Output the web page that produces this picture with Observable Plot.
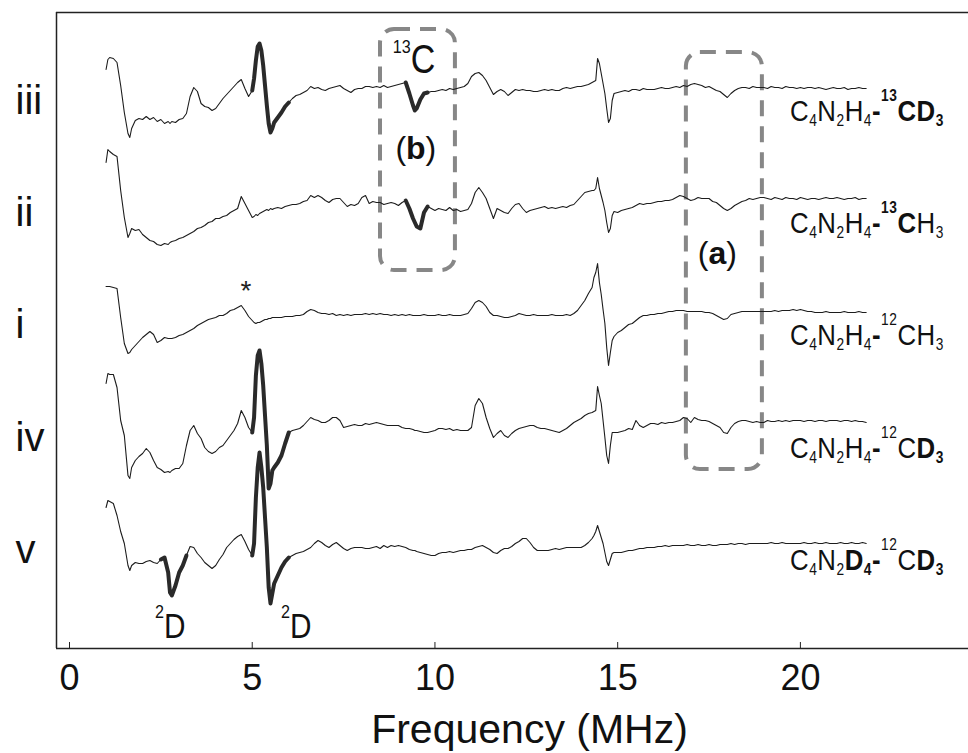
<!DOCTYPE html>
<html><head><meta charset="utf-8">
<script src="https://cdn.jsdelivr.net/npm/d3@7"></script>
<script src="https://cdn.jsdelivr.net/npm/@observablehq/plot@0.6"></script>
<style>body{margin:0;background:#fff;} svg{display:block;}</style>
</head><body><div id="chart"></div>
<script>
// ---------- data ----------
const traceNames = ["iii", "ii", "i", "iv", "v"];
const traceOffsets = [560, 448, 336, 223, 111];   // vertical stacking offsets (signal units)
const xTicks = [0, 5, 10, 15, 20];

// shared frequency grid (MHz)
const freq = [
 1.0,1.05,1.1,1.2,1.3,1.4,1.5,1.6,1.65,1.7,1.8,1.9,
 2.0,2.1,2.2,2.3,2.4,2.5,2.6,2.7,2.75,2.8,2.9,
 3.0,3.1,3.2,3.3,3.4,3.5,3.6,3.7,3.8,3.9,
 4.0,4.1,4.2,4.3,4.4,4.5,4.6,4.7,4.8,4.9,
 5.0,5.05,5.1,5.15,5.2,5.25,5.3,5.35,5.4,5.45,5.5,5.55,5.6,5.7,5.8,5.9,
 6.0,6.1,6.2,6.3,6.4,6.5,6.6,6.7,6.8,6.9,
 7.0,7.1,7.2,7.3,7.4,7.5,7.6,7.7,7.8,7.9,
 8.0,8.1,8.2,8.3,8.4,8.5,8.6,8.7,8.8,8.9,
 9.0,9.1,9.2,9.3,9.4,9.45,9.5,9.6,9.7,9.8,9.9,
 10.0,10.1,10.2,10.3,10.4,10.5,10.6,10.7,10.8,10.9,
 11.0,11.1,11.2,11.3,11.4,11.5,11.6,11.7,11.8,11.9,
 12.0,12.1,12.2,12.3,12.4,12.5,12.6,12.7,12.8,12.9,
 13.0,13.1,13.2,13.3,13.4,13.5,13.6,13.7,13.8,13.9,
 14.0,14.1,14.2,14.3,14.35,14.4,14.45,14.5,14.55,14.6,14.65,14.7,14.75,14.8,14.85,14.9,
 15.0,15.1,15.2,15.3,15.4,15.5,15.6,15.7,15.8,15.9,
 16.0,16.1,16.2,16.3,16.4,16.5,16.6,16.7,16.8,16.9,
 17.0,17.1,17.2,17.3,17.4,17.5,17.6,17.7,17.8,17.9,
 18.0,18.1,18.2,18.3,18.4,18.5,18.6,18.7,18.8,18.9,
 19.0,19.1,19.2,19.3,19.4,19.5,19.6,19.7,19.8,19.9,
 20.0,20.1,20.2,20.3,20.4,20.5,20.6,20.7,20.8,20.9,
 21.0,21.1,21.2,21.3,21.4,21.5,21.6,21.7,21.8];

const sigIII = [
 19,29,31,30,26,3,-24,-45,-49,-40,-32,-30,
 -31,-28,-31,-29,-33,-31,-35,-33,-35,-33,-34,
 -31,-30,-25,-8,1,-3,-15,-18,-19,-22,
 -20,-15,-10,-6,-2,2,6,9,0,-8,
 -2,10,28,42,45,38,23,3,-17,-35,-44,-40,-34,-29,-24,-18,
 -14,-10,-7,-6,-4,-2,2,0,1,-1,
 -2,0,1,2,3,0,-2,-4,-1,0,
 0,2,2,1,2,1,3,1,2,3,
 4,5,6,-5,-17,-22,-20,-11,-5,-4,-3,
 -3,-2,-1,-2,0,-1,0,1,2,5,
 12,15,16,13,8,1,-6,-3,-1,-3,
 -7,-4,-1,-2,-1,-2,-2,-3,-3,-2,
 -1,-2,-1,-2,-2,0,1,0,1,2,
 2,3,4,6,7,8,30,25,15,5,-5,-20,-34,-30,-12,-5,
 -4,-3,-2,-3,-1,-1,-2,0,-1,-1,
 -1,0,1,0,0,1,2,1,3,2,
 4,5,4,3,1,2,0,-2,-3,-6,
 -9,-5,-2,0,1,1,0,2,1,1,
 1,0,2,1,1,0,2,1,1,0,
 1,0,1,1,0,1,0,-1,0,1,
 0,0,1,-1,0,0,1,0,0];

const sigII = [
 38,51,49,46,44,10,-17,-37,-33,-28,-30,-29,
 -34,-37,-40,-41,-44,-45,-43,-44,-42,-41,-40,
 -38,-37,-35,-33,-31,-28,-27,-25,-22,-21,
 -18,-18,-16,-15,-12,-10,-8,4,-3,-10,
 -17,-16,-14,-15,-13,-12,-11,-10,-9,-10,-8,-9,-8,-7,-8,-6,
 -5,-4,-4,-3,-1,0,5,3,5,3,
 0,-2,1,2,2,-2,-6,-4,-5,-3,
 3,5,-3,-1,-2,-2,-4,-3,-2,-3,
 -5,-2,0,-8,-18,-22,-26,-28,-12,-6,-8,
 -10,-8,-9,-10,-7,-10,-9,-11,-10,-9,
 -3,8,13,8,2,-8,-18,-8,-10,-12,
 -13,-8,-4,-3,-8,-12,-10,-9,-8,-7,
 -6,-8,-7,-8,-7,-6,-7,-5,-4,0,
 4,8,9,10,10,12,23,12,5,-2,-10,-22,-32,-28,-15,-11,
 -12,-10,-9,-8,-7,-5,-3,-4,-3,-3,
 -2,-1,-1,0,0,1,3,5,4,2,
 0,1,3,2,2,2,-1,-2,-5,-8,
 -10,-8,-5,-3,-1,0,2,1,2,3,
 3,2,1,3,2,1,3,2,2,1,
 3,2,1,2,2,1,2,3,2,2,
 3,2,1,2,2,3,1,2,2];

const sigI = [
 26,26,26,25,24,-5,-31,-41,-40,-37,-33,-29,
 -25,-22,-19,-22,-30,-28,-25,-26,-26,-26,-25,
 -23,-22,-20,-18,-16,-13,-11,-9,-7,-6,
 -5,-3,-3,-1,2,3,5,7,2,-4,
 -8,-10,-11,-10,-10,-9,-8,-7,-7,-6,-6,-5,-5,-5,-5,-4,
 -4,-4,-3,-3,-2,1,3,2,0,-1,
 -1,-2,-1,-3,-2,-3,-2,-3,-2,-2,
 -2,-1,-2,-1,-2,-1,-2,-2,-3,-2,
 -3,-2,-3,-2,-3,-3,-3,-3,-2,-3,-3,
 -3,-2,-3,-3,-2,-3,-3,-3,-2,-1,
 4,10,12,10,6,0,-3,-3,-4,-5,
 -5,-4,-3,-1,-2,-3,-3,-2,-3,-3,
 -3,-3,-2,-3,-3,-3,-2,-3,-1,2,
 7,12,19,25,35,40,49,30,18,3,-11,-35,-53,-40,-28,-24,
 -20,-18,-15,-12,-11,-8,-5,-3,-3,-2,
 -2,-1,-1,0,1,1,2,2,2,1,
 1,1,1,1,0,0,-1,-3,-5,-7,
 -6,-2,-1,0,1,1,1,1,1,1,
 1,1,1,2,1,2,2,2,3,2,
 3,2,1,1,0,0,0,1,0,0,
 0,0,1,0,0,0,1,0,0];

const sigIV = [
 42,52,51,51,38,5,-10,-50,-53,-42,-35,-31,
 -28,-23,-27,-35,-42,-44,-47,-46,-47,-45,-43,
 -43,-38,-20,-5,0,-8,-13,-22,-26,-28,
 -26,-22,-20,-15,-10,-5,2,15,8,-2,
 -7,8,50,70,75,62,40,10,-20,-63,-58,-45,-42,-37,-30,-18,
 -7,-5,-4,-3,0,4,8,6,5,3,
 3,5,8,8,5,-2,-1,0,1,0,
 0,2,1,2,3,2,1,0,0,0,
 0,-2,-3,-3,-4,-5,-5,-6,-7,-7,-6,
 -5,-3,-3,-4,-3,-5,-4,-5,-5,-5,
 -2,20,27,22,8,-3,-12,-8,-5,-10,
 -12,-8,-5,-3,-2,-1,0,0,-2,-3,
 -3,-4,-5,-6,-7,-5,-3,0,3,5,
 7,10,12,13,14,15,39,30,22,5,-12,-30,-38,-20,-7,-7,
 -7,-6,-5,-3,-4,5,0,-2,0,2,
 2,1,3,2,3,3,4,5,8,7,
 3,8,6,5,5,4,2,0,-2,-7,
 -8,-2,2,4,5,5,4,3,4,3,
 3,5,4,4,5,4,5,4,5,5,
 5,4,5,5,4,5,5,4,5,5,
 5,4,5,5,4,5,4,4,3];

const sigV = [
 30,37,36,34,22,6,-6,-28,-33,-28,-25,-26,
 -26,-24,-23,-25,-26,-22,-20,-35,-55,-58,-48,
 -35,-28,-18,-9,-10,-16,-20,-25,-28,-31,
 -28,-22,-17,-10,-6,-2,1,3,-4,-12,
 -18,-6,40,70,85,70,50,20,-10,-50,-66,-56,-46,-38,-30,-24,
 -20,-18,-16,-15,-14,-12,-10,-6,-3,-5,
 -8,-10,-7,-5,-8,-11,-13,-11,-10,-10,
 -10,-11,-11,-10,-9,-11,-8,-10,-8,-9,
 -8,-9,-10,-12,-13,-13,-14,-15,-16,-17,-18,
 -18,-16,-15,-15,-14,-15,-14,-13,-13,-12,
 -12,-10,-9,-8,-10,-12,-15,-16,-13,-11,
 -11,-9,-6,-4,-1,-1,-5,-10,-13,-13,
 -13,-13,-12,-11,-12,-11,-10,-10,-10,-10,
 -10,-8,-5,-1,2,6,12,6,0,-6,-15,-24,-28,-22,-16,-15,
 -15,-15,-14,-13,-13,-12,-11,-11,-10,-10,
 -10,-9,-9,-8,-9,-8,-8,-8,-8,-7,
 -8,-8,-7,-8,-8,-7,-8,-8,-7,-7,
 -7,-6,-7,-6,-6,-7,-6,-6,-6,-6,
 -6,-6,-5,-6,-6,-5,-6,-6,-6,-6,
 -6,-5,-6,-6,-5,-6,-6,-5,-6,-6,
 -6,-5,-6,-6,-5,-6,-6,-5,-6];

// frequency ranges drawn with a heavy stroke, per trace
const boldRanges = {iii: [[5.0, 6.0], [9.2, 9.8]], ii: [[9.2, 9.8]], i: [], iv: [[5.0, 6.0]], v: [[2.5, 3.2], [5.0, 6.0]]};

// right-hand formula labels: [text, position (0 normal, -1 sub, 1 sup), bold]
const formulaLabels = [
  [["C",0,0],["4",-1,0],["N",0,0],["2",-1,0],["H",0,0],["4",-1,0],["-",0,1],["13",1,1],["C",0,1],["D",0,1],["3",-1,1]],
  [["C",0,0],["4",-1,0],["N",0,0],["2",-1,0],["H",0,0],["4",-1,0],["-",0,1],["13",1,1],["C",0,1],["H",0,0],["3",-1,0]],
  [["C",0,0],["4",-1,0],["N",0,0],["2",-1,0],["H",0,0],["4",-1,0],["-",0,1],["12",1,0],["C",0,0],["H",0,0],["3",-1,0]],
  [["C",0,0],["4",-1,0],["N",0,0],["2",-1,0],["H",0,0],["4",-1,0],["-",0,1],["12",1,0],["C",0,0],["D",0,1],["3",-1,1]],
  [["C",0,0],["4",-1,0],["N",0,0],["2",-1,0],["D",0,1],["4",-1,1],["-",0,1],["12",1,0],["C",0,0],["D",0,1],["3",-1,1]]
];
const formulaX = 19.73;

// dashed boxes (a) and (b)
const boxes = [
  {name: "b", x1: 8.51, x2: 10.56, y1: 378, y2: 619, lx: 9.49, ly: 489},
  {name: "a", x1: 16.88, x2: 18.96, y1: 179, y2: 596, lx: 17.74, ly: 384}
];
// isotope annotations
const isoNotes = [
  {sup: "13", main: "C", f: 8.86, y: 575, size: 40},
  {sup: "2", main: "D", f: 2.35, y: 10, size: 35},
  {sup: "2", main: "D", f: 5.80, y: 10, size: 35}
];
const starNote = {text: "*", f: 4.84, y: 348};

// ---------- build ----------
const sigs = [sigIII, sigII, sigI, sigIV, sigV];
const rows = [];
const boldRows = [];
sigs.forEach((sg, k) => {
  const name = traceNames[k];
  freq.forEach((f, j) => {
    const r = {trace: name, f, y: traceOffsets[k] + sg[j]};
    rows.push(r);
    boldRanges[name].forEach(([a, b], m) => {
      if (f >= a - 1e-9 && f <= b + 1e-9) boldRows.push({...r, seg: name + m});
    });
  });
});

const FONT = '"Liberation Sans", Arial, Helvetica, sans-serif';
const xDomain = [-0.356, 24.6];

const chart = Plot.plot({
  width: 968, height: 753,
  marginLeft: 56, marginRight: 0, marginTop: 12, marginBottom: 105,
  style: {fontFamily: FONT, background: "#fff", color: "#111"},
  x: {domain: xDomain},
  y: {domain: [0, 636], axis: null},
  marks: [
    Plot.rect(boxes, {x1: "x1", x2: "x2", y1: "y1", y2: "y2", rx: 14, fill: "none", stroke: "#878787", strokeWidth: 4, strokeDasharray: "16,10"}),
    Plot.line(rows, {x: "f", y: "y", z: "trace", stroke: "#1c1c1c", strokeWidth: 1.1}),
    Plot.line(boldRows, {x: "f", y: "y", z: "seg", stroke: "#2a2a2a", strokeWidth: 4, strokeLinejoin: "round"}),
    Plot.ruleX([xDomain[0]], {y1: 0, y2: 636, stroke: "#222", strokeWidth: 1.5}),
    Plot.ruleY([0, 636], {stroke: "#222", strokeWidth: 1.5}),
    Plot.ruleX(xTicks, {y1: 0, y2: 6, stroke: "#222", strokeWidth: 1}),
    Plot.axisX(xTicks, {tickSize: 0, tickPadding: 16, fontSize: 36, fontFamily: FONT, label: null, tickFormat: d => String(d)}),
    Plot.text(["Frequency (MHz)"], {frameAnchor: "bottom", lineAnchor: "top", dy: 65, dx: 17, fontSize: 41, fontFamily: FONT}),
    Plot.text(traceNames, {y: (d, i) => traceOffsets[i], frameAnchor: "left", textAnchor: "start", dx: -41, dy: 13, fontSize: 40, fontFamily: FONT})
  ]
});
document.getElementById("chart").appendChild(chart);

// ---------- rich text (sub/superscripts) placed through the plot's scales ----------
const X = chart.scale("x"), Y = chart.scale("y");
const svg = d3.select(chart);
function rich(parts, xv, yv, o) {
  const t = svg.append("text")
    .attr("transform", `translate(${X.apply(xv)},${Y.apply(yv)}) scale(${o.sx || 1},1)`)
    .attr("text-anchor", o.anchor || "start")
    .attr("letter-spacing", o.ls || 0)
    .attr("font-family", FONT).attr("font-size", o.size).attr("fill", "#111");
  let cur = 0;
  parts.forEach(([s, pos, bold]) => {
    const target = pos === -1 ? o.subShift : pos === 1 ? o.supShift : 0;
    t.append("tspan").attr("dy", target - cur).attr("font-size", pos ? o.subSize : o.size)
      .attr("font-weight", bold ? "bold" : "normal").text(s);
    cur = target;
  });
}
formulaLabels.forEach((parts, k) =>
  rich(parts, formulaX, traceOffsets[k] - 33, {size: 30, subSize: 16, subShift: 5, supShift: -20, sx: 0.86, ls: 0.6}));
isoNotes.forEach(n =>
  rich([[n.sup, 1, 0], [n.main, 0, 0]], n.f, n.y, {size: n.size, subSize: 19, subShift: 0, supShift: -20, sx: 0.85}));
boxes.forEach(b =>
  rich([["(", 0, 0], [b.name, 0, 1], [")", 0, 0]], b.lx, b.ly, {size: 32, subSize: 32, subShift: 0, supShift: 0, anchor: "middle"}));
svg.append("text").attr("x", X.apply(starNote.f)).attr("y", Y.apply(starNote.y))
  .attr("text-anchor", "middle").attr("font-family", FONT).attr("font-size", 28).attr("fill", "#222").text(starNote.text);
</script></body></html>
